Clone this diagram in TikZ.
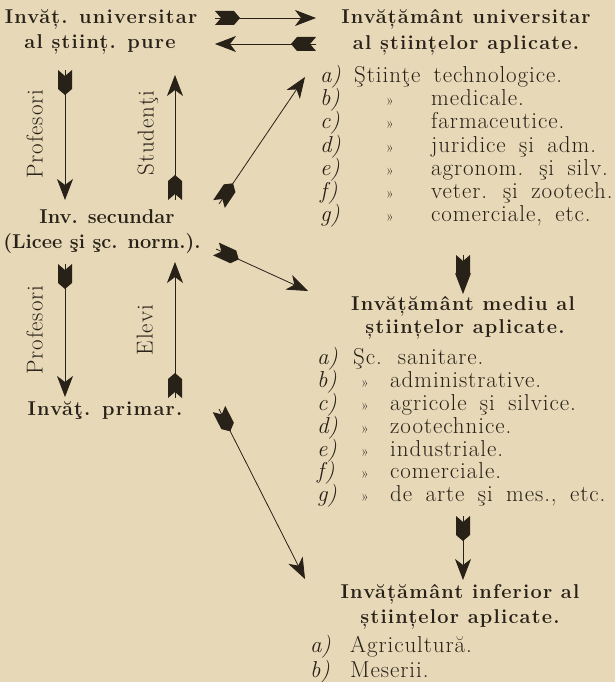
\documentclass[tikz,border=0pt]{standalone}
\usepackage{fontspec}
\setmainfont{Latin Modern Roman}[WordSpace=1.7]
\newfontfamily\hdfont{Latin Modern Roman}
\usetikzlibrary{arrows.meta,decorations.markings}
\definecolor{paper}{RGB}{231,216,184}
\definecolor{ink}{RGB}{40,33,24}
\begin{document}
\begin{tikzpicture}[x=1pt,y=-1pt,
  every node/.style={inner sep=0pt,text=ink,font=\fontsize{23}{27}\selectfont\addfontfeature{LetterSpace=4},text height=16pt,text depth=5pt},
  hd/.style={font=\hdfont\fontsize{20}{24}\selectfont\bfseries},
  hdsp/.style={font=\hdfont\fontsize{20}{24}\selectfont\bfseries\addfontfeature{LetterSpace=6}},
  lab/.style={anchor=west,font=\fontsize{23}{27}\selectfont\itshape},
  itm/.style={anchor=west},
  qt/.style={anchor=west,font=\fontsize{15}{18}\selectfont},
  vlab/.style={rotate=90},
  feather/.style={draw=ink,line width=0.8pt,
    -{Stealth[length=21pt,width=16pt,inset=6pt]},
    postaction={decorate},
    decoration={markings,mark=at position 0 with {\fill[ink] (0,7) -- (6,0) -- (0,-7) -- (19,-7) -- (25,0) -- (19,7) -- cycle;}}}
]
\fill[paper] (0,0) rectangle (615,682);
\useasboundingbox (0,0) rectangle (615,682);

% headings
\node[hdsp] (up1) at (101,18) {Invăț. universitar};
\node[hdsp] (up2) at (100,43) {al științ. pure};
\node[hdsp] (ua1) at (466,18) {Invățământ universitar};
\node[hdsp] (ua2) at (466,44) {al științelor aplicate.};
\node[hd] (sec1) at (107,218) {Inv. secundar};
\node[hd] (sec2) at (102,243) {(Licee şi şc. norm.).};
\node[hdsp] (prim) at (105,410) {Invăţ. primar.};
\node[hdsp] (med1) at (463,305) {Invățământ mediu al};
\node[hdsp] (med2) at (465,328) {științelor aplicate.};
\node[hdsp] (inf1) at (460,593) {Invățământ inferior al};
\node[hdsp] (inf2) at (460,618) {științelor aplicate.};

% vertical labels
\node[vlab] (prof1) at (37,134) {Profesori};
\node[vlab] (stud) at (148,133) {Studenţi};
\node[vlab] (prof2) at (37,330) {Profesori};
\node[vlab] (elev) at (147,330) {Elevi};

% list 1
\node[lab] (l1a) at (320,77) {a)};
\node[itm] (l1at) at (354,77) {Ştiinţe technologice.};
\node[lab] (l1b) at (320,100) {b)};
\node[qt] (l1bq) at (386,100) {»};
\node[itm] (l1bt) at (431,100) {medicale.};
\node[lab] (l1c) at (320,123) {c)};
\node[qt] (l1cq) at (386,123) {»};
\node[itm] (l1ct) at (431,123) {farmaceutice.};
\node[lab] (l1d) at (320,147) {d)};
\node[qt] (l1dq) at (386,147) {»};
\node[itm] (l1dt) at (431,147) {juridice şi adm.};
\node[lab] (l1e) at (320,170) {e)};
\node[qt] (l1eq) at (386,170) {»};
\node[itm] (l1et) at (431,170) {agronom. şi silv.};
\node[lab] (l1f) at (320,193) {f)};
\node[qt] (l1fq) at (386,193) {»};
\node[itm] (l1ft) at (431,193) {veter. şi zootech.};
\node[lab] (l1g) at (320,216) {g)};
\node[qt] (l1gq) at (386,216) {»};
\node[itm] (l1gt) at (431,216) {comerciale, etc.};

% list 2
\node[lab] (l2a) at (317,359) {a)};
\node[itm] (l2at) at (353,359) {Şc. sanitare.};
\node[lab] (l2b) at (317,382) {b)};
\node[qt] (l2bq) at (361,382) {»};
\node[itm] (l2bt) at (390,382) {administrative.};
\node[lab] (l2c) at (317,405) {c)};
\node[qt] (l2cq) at (361,405) {»};
\node[itm] (l2ct) at (390,405) {agricole şi silvice.};
\node[lab] (l2d) at (317,428) {d)};
\node[qt] (l2dq) at (361,428) {»};
\node[itm] (l2dt) at (390,428) {zootechnice.};
\node[lab] (l2e) at (317,451) {e)};
\node[qt] (l2eq) at (361,451) {»};
\node[itm] (l2et) at (390,451) {industriale.};
\node[lab] (l2f) at (317,473) {f)};
\node[qt] (l2fq) at (361,473) {»};
\node[itm] (l2ft) at (390,473) {comerciale.};
\node[lab] (l2g) at (317,496) {g)};
\node[qt] (l2gq) at (361,496) {»};
\node[itm] (l2gt) at (390,496) {de arte şi mes., etc.};

% list 3
\node[lab] (l3a) at (310,647) {a)};
\node[itm] (l3at) at (350,647) {Agricultură.};
\node[lab] (l3b) at (310,672) {b)};
\node[itm] (l3bt) at (350,672) {Meserii.};

% arrow end points
\coordinate (a1s) at (215,18);  \coordinate (a1e) at (316,18);
\coordinate (a2s) at (316,44);  \coordinate (a2e) at (215,44);
\coordinate (a3s) at (65,70);   \coordinate (a3e) at (65,200);
\coordinate (a4s) at (175,200); \coordinate (a4e) at (175,75);
\coordinate (a5s) at (219,204); \coordinate (a5e) at (305,77);
\coordinate (a6s) at (216,249); \coordinate (a6e) at (308,291);
\coordinate (a7s) at (65,264);  \coordinate (a7e) at (65,397);
\coordinate (a8s) at (175,398); \coordinate (a8e) at (175,262);
\coordinate (a9s) at (219,409); \coordinate (a9e) at (305,579);
\coordinate (a10s) at (463,255); \coordinate (a10e) at (463,294);
\coordinate (a11s) at (463,516); \coordinate (a11e) at (463,580);

\draw[feather] (a1s) -- (a1e);
\draw[feather] (a2s) -- (a2e);
\draw[feather] (a3s) -- (a3e);
\draw[feather] (a4s) -- (a4e);
\draw[feather] (a5s) -- (a5e);
\draw[feather] (a6s) -- (a6e);
\draw[feather] (a7s) -- (a7e);
\draw[feather] (a8s) -- (a8e);
\draw[feather] (a9s) -- (a9e);
\draw[feather] (a10s) -- (a10e);
\draw[feather] (a11s) -- (a11e);
\end{tikzpicture}
\end{document}
